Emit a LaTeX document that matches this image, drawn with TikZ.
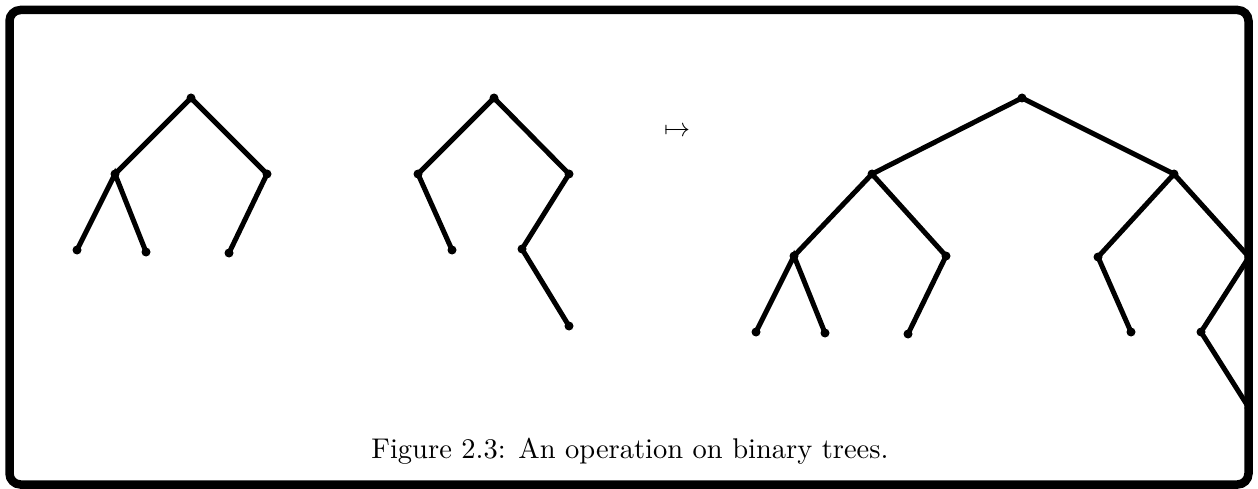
\documentclass[tikz,border=0pt]{standalone}
\begin{document}
\begin{tikzpicture}[x=1pt,y=-1pt,
  vertex/.style={circle,fill=black,inner sep=0pt,minimum size=9pt},
  edge/.style={line width=5pt,line cap=round},
  frame/.style={line width=8.5pt,rounded corners=11pt}]
\useasboundingbox (0,0) rectangle (1258,489);

\begin{scope}
\clip[rounded corners=11pt] (9.5,10) rectangle (1248.5,484.5);

% first tree
\node[vertex] (a) at (191,98) {};
\node[vertex] (aL) at (115,174) {};
\node[vertex] (aR) at (267,174) {};
\node[vertex] (aLL) at (77,250) {};
\node[vertex] (aLR) at (146,252) {};
\node[vertex] (aRL) at (229,253) {};
\draw[edge] (aL.center) -- (a.center) -- (aR.center);
\draw[edge] (aLL.center) -- (aL.center) -- (aLR.center);
\draw[edge] (aR.center) -- (aRL.center);

% second tree
\node[vertex] (b) at (494,98) {};
\node[vertex] (bL) at (418,174) {};
\node[vertex] (bR) at (569,174) {};
\node[vertex] (bLR) at (452,250) {};
\node[vertex] (bRL) at (522,249) {};
\node[vertex] (bRLR) at (569,326) {};
\draw[edge] (bL.center) -- (b.center) -- (bR.center);
\draw[edge] (bL.center) -- (bLR.center);
\draw[edge] (bR.center) -- (bRL.center) -- (bRLR.center);

% the map
\node[scale=2.6] (map) at (677,131.5) {$\mapsto$};

% resulting tree
\node[vertex] (c) at (1022,98) {};
\node[vertex] (cL) at (872,174) {};
\node[vertex] (cR) at (1174,174) {};
\node[vertex] (cLL) at (794,256) {};
\node[vertex] (cLR) at (946,256) {};
\node[vertex] (cLLL) at (756,332) {};
\node[vertex] (cLLR) at (825,333) {};
\node[vertex] (cLRL) at (908,334) {};
\node[vertex] (cRL) at (1098,257) {};
\node[vertex] (cRLR) at (1131,332) {};
\node[vertex] (cRR) at (1249,257) {};
\node[vertex] (cRRL) at (1201,332) {};
\node[vertex] (cRRLR) at (1249,408) {};
\draw[edge] (cL.center) -- (c.center) -- (cR.center);
\draw[edge] (cLL.center) -- (cL.center) -- (cLR.center);
\draw[edge] (cLLL.center) -- (cLL.center) -- (cLLR.center);
\draw[edge] (cLR.center) -- (cLRL.center);
\draw[edge] (cRL.center) -- (cR.center) -- (cRR.center);
\draw[edge] (cRL.center) -- (cRLR.center);
\draw[edge] (cRR.center) -- (cRRL.center) -- (cRRLR.center);
\end{scope}

% caption
\node[scale=2.85,anchor=base] (cap) at (630,458) {Figure 2.3: An operation on binary trees.};

% frame
\draw[frame] (9.5,10) rectangle (1248.5,484.5);
\end{tikzpicture}
\end{document}
